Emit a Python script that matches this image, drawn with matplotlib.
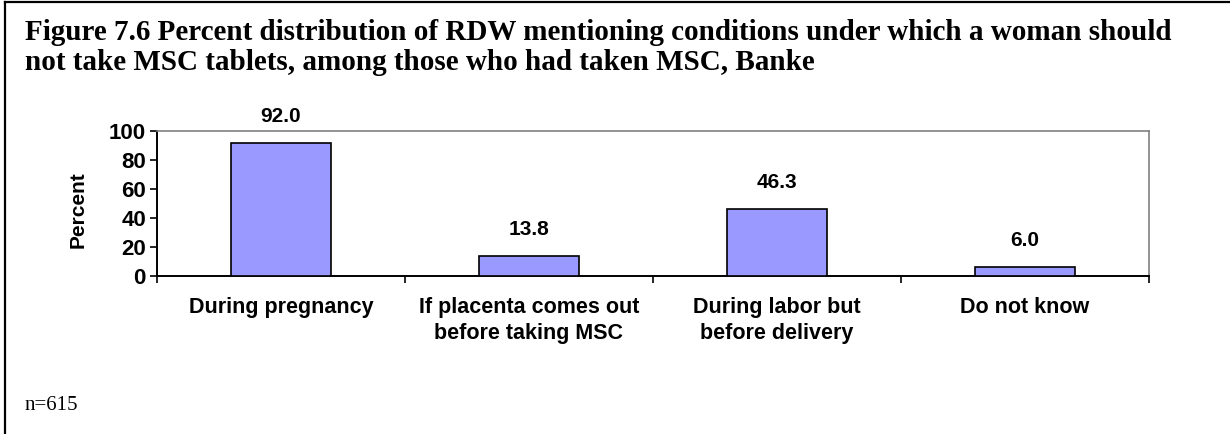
import matplotlib
matplotlib.use("Agg")
import matplotlib.pyplot as plt
from matplotlib.lines import Line2D

categories = ["During pregnancy", "If placenta comes out\nbefore taking MSC",
              "During labor but\nbefore delivery", "Do not know"]
values = [92.0, 13.8, 46.3, 6.0]
yticks = [0, 20, 40, 60, 80, 100]
title_lines = ["Figure 7.6 Percent distribution of RDW mentioning conditions under which a woman should",
               "not take MSC tablets, among those who had taken MSC, Banke"]
note = "n=615"

W, H = 1230, 434
fig = plt.figure(figsize=(W / 100, H / 100), dpi=100)

# outer frame (left and top visible)
fig.add_artist(Line2D([5 / W, 5 / W], [0, 1 - 1.5 / H], color="black", lw=1.6, transform=fig.transFigure))
fig.add_artist(Line2D([5 / W, 1], [1 - 1.5 / H, 1 - 1.5 / H], color="black", lw=1.6, transform=fig.transFigure))

for i, line in enumerate(title_lines):
    fig.text(25 / W, 1 - (40 + 30 * i) / H, line, ha="left", va="baseline", family="Liberation Serif",
             fontweight="bold", fontsize=21)
fig.text(25 / W, 1 - 410 / H, note, ha="left", va="baseline", family="Liberation Serif", fontsize=15)

left, right, top, bottom = 157, 1149, 131, 276
ax = fig.add_axes([left / W, 1 - bottom / H, (right - left) / W, (bottom - top) / H])
x = list(range(len(categories)))
ax.bar(x, values, width=0.405, color="#9999FF", edgecolor="black", linewidth=1.2, zorder=3)
for xi, v in zip(x, values):
    ax.annotate(f"{v:.1f}", (xi, v), xytext=(0, 15), textcoords="offset points",
                ha="center", va="baseline", family="Liberation Sans", fontweight="bold", fontsize=15)

ax.set_xlim(-0.5, len(categories) - 0.5)
ax.set_ylim(0, 100)
ax.set_yticks(yticks)
ax.set_yticklabels([str(t) for t in yticks], family="Liberation Sans", fontweight="bold", fontsize=16)
ax.set_xticks([i - 0.5 for i in range(len(categories) + 1)])
ax.set_xticklabels([])
ax.set_xticks(x, minor=True)
ax.set_xticklabels(categories, minor=True, family="Liberation Sans", fontweight="bold", fontsize=15.5,
                   linespacing=1.32, va="top")
ax.tick_params(axis="x", which="minor", length=0, pad=15)
ax.tick_params(axis="x", which="major", direction="out", length=5, width=1.2)
ax.tick_params(axis="y", direction="out", length=5, width=1.2, pad=3)
ax.set_ylabel("Percent", family="Liberation Sans", fontweight="bold", fontsize=15, va="center")
ax.yaxis.set_label_coords((78 - left) / (right - left), 0.46)

for s in ["top", "right"]:
    ax.spines[s].set_color("#808080")
    ax.spines[s].set_linewidth(1.2)
for s in ["left", "bottom"]:
    ax.spines[s].set_color("black")
    ax.spines[s].set_linewidth(1.4)

fig.savefig("out.png", dpi=100)
